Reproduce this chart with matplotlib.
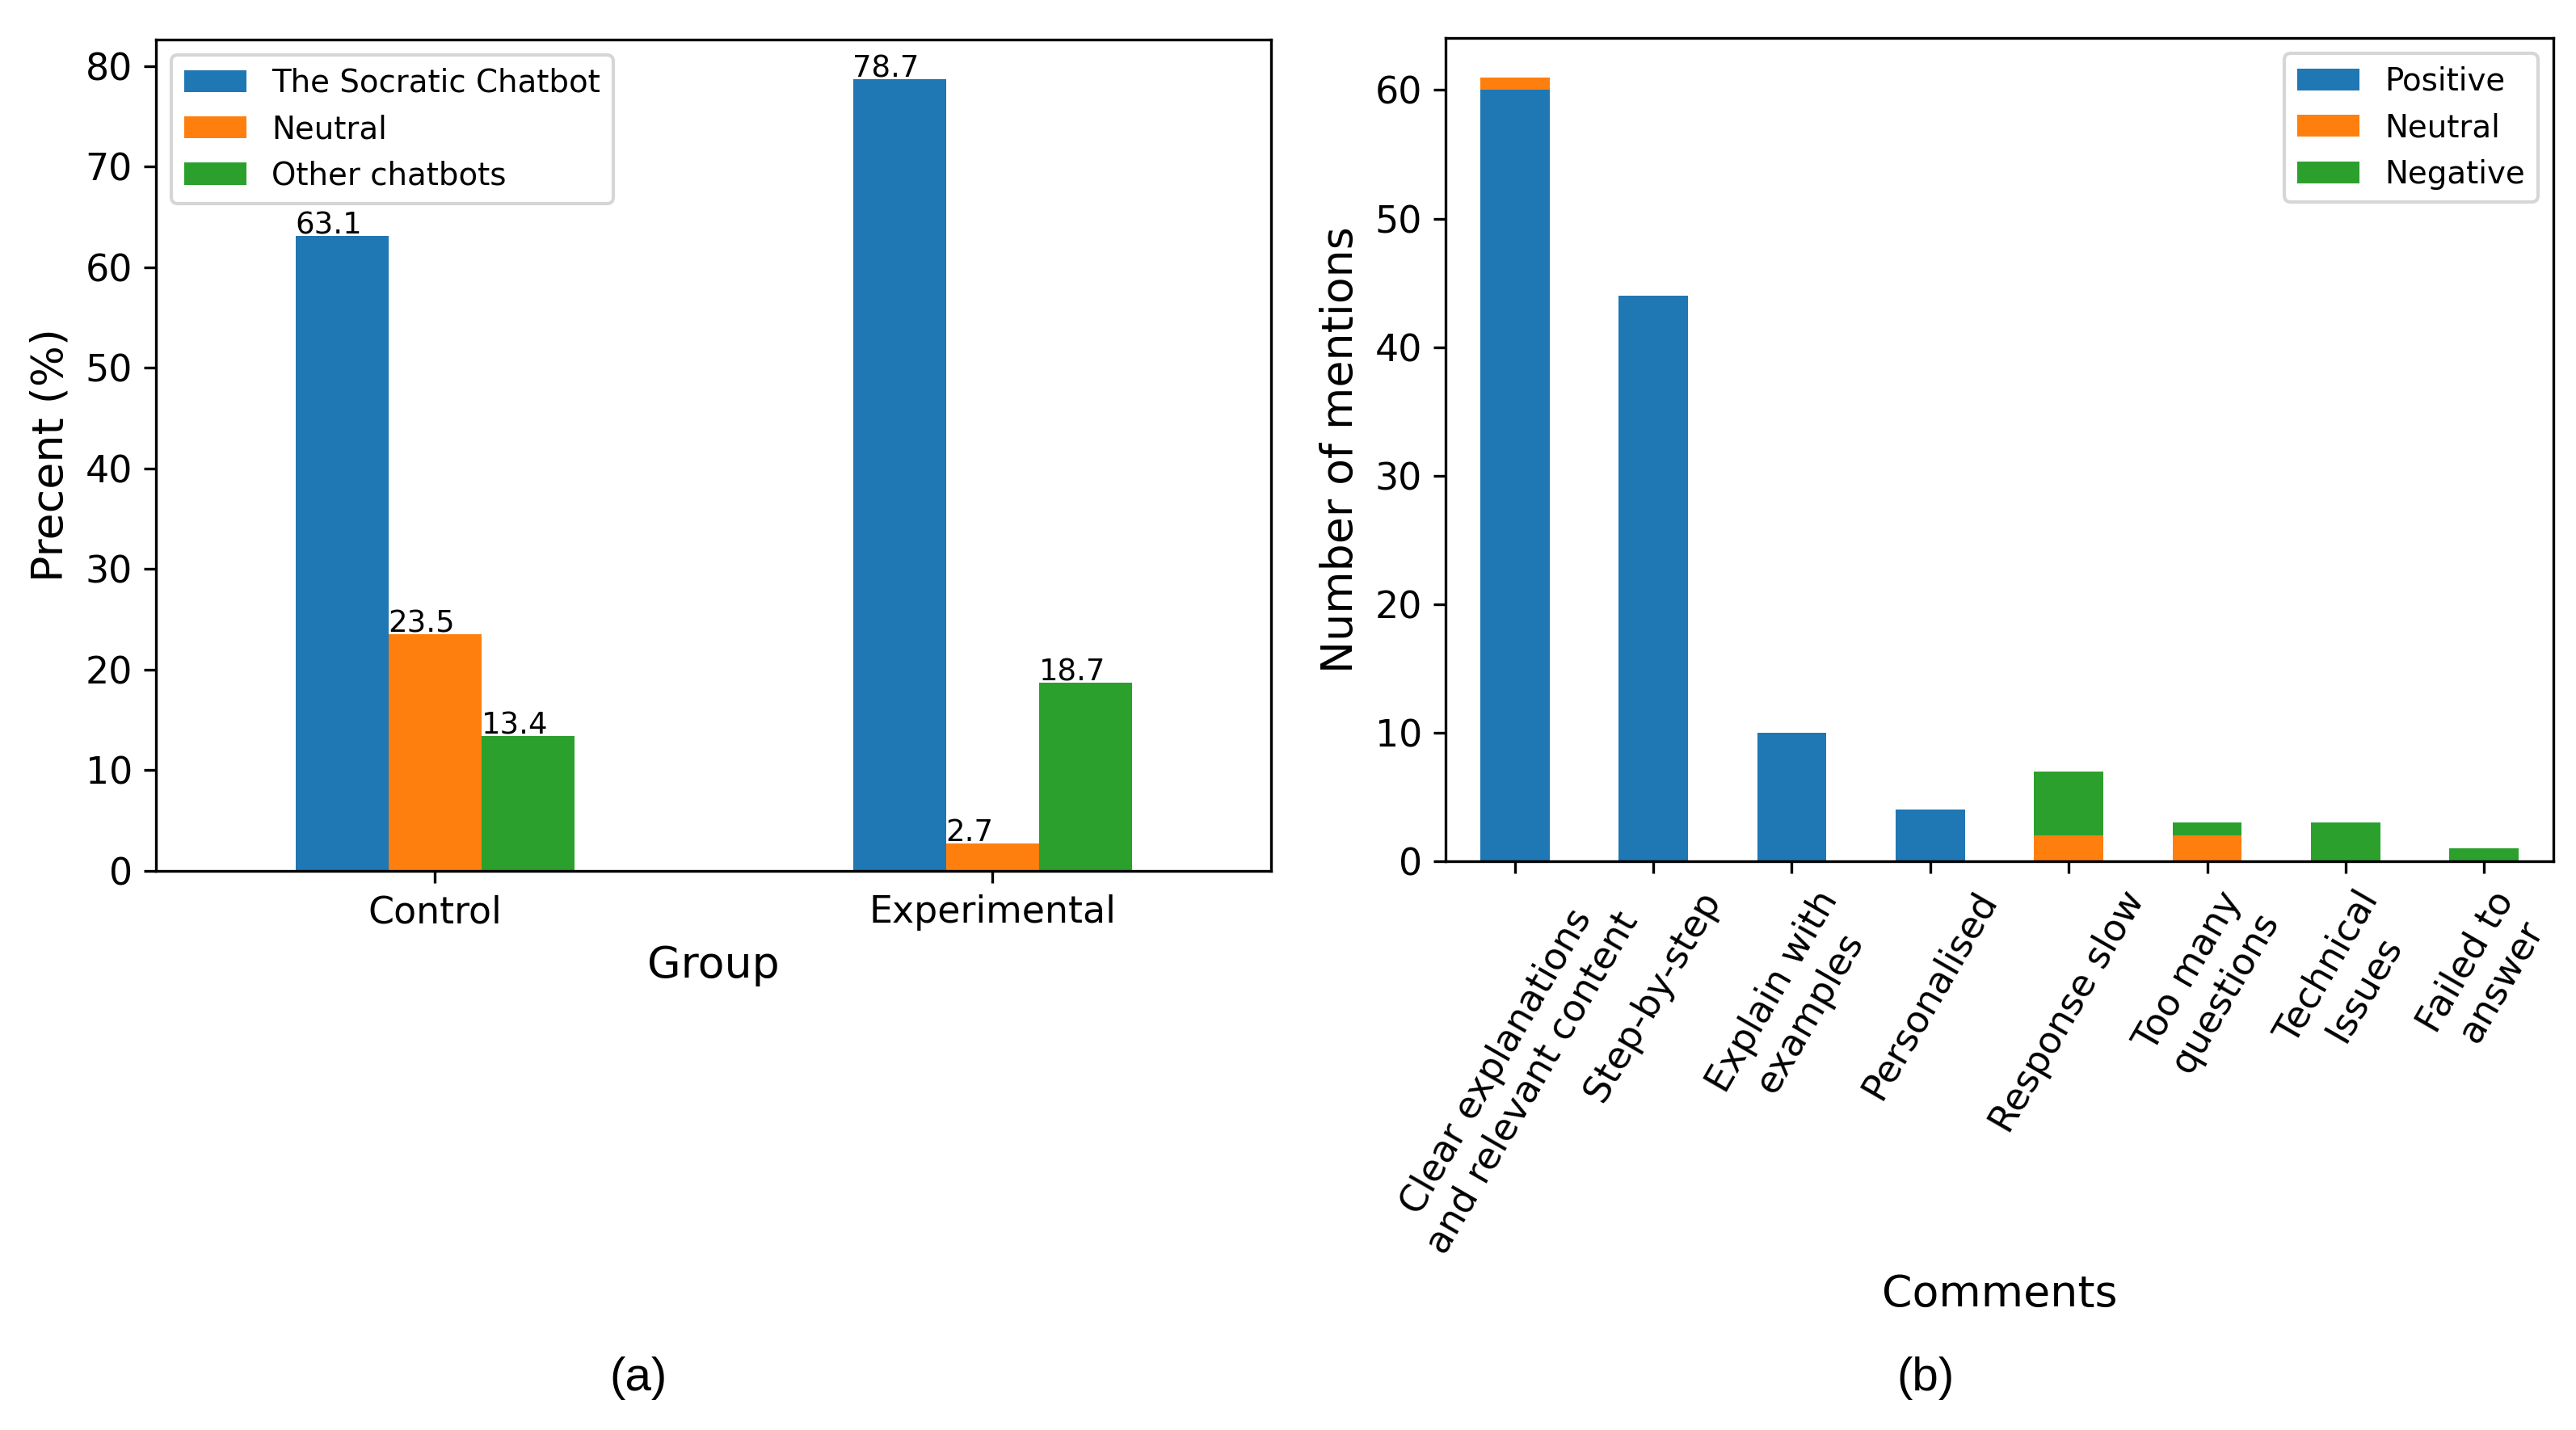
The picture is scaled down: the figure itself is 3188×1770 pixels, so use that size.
import matplotlib
matplotlib.use("Agg")
import matplotlib.pyplot as plt
import numpy as np

# ---- data: panel (a) ----
groups = ["Control", "Experimental"]
socratic = [63.1, 78.7]
neutral_a = [23.5, 2.7]
other = [13.4, 18.7]
series_a_labels = ["The Socratic Chatbot", "Neutral", "Other chatbots"]

# ---- data: panel (b) ----
comments = ["Clear explanations\nand relevant content", "Step-by-step",
            "Explain with\nexamples", "Personalised", "Response slow",
            "Too many\nquestions", "Technical\nIssues", "Failed to\nanswer"]
positive = [60, 44, 10, 4, 0, 0, 0, 0]
neutral_b = [1, 0, 0, 0, 2, 2, 0, 0]
negative = [0, 0, 0, 0, 5, 1, 3, 1]
series_b_labels = ["Positive", "Neutral", "Negative"]

colors = ["#1f77b4", "#ff7f0e", "#2ca02c"]

W, H = 3188, 1770
DPI = 300
fig = plt.figure(figsize=(W / DPI, H / DPI), dpi=DPI)
plt.rcParams["font.family"] = ["DejaVu Sans"]

TICK = 11.0
LEG = 9.3
ANN = 8.9
LAB = 12.9

# ---- panel (a) ----
ax1 = fig.add_axes([193 / W, 1 - 1078 / H, 1380 / W, 1029 / H])
x = np.arange(len(groups))
bw = 0.5 / 3
for i, (vals, lab) in enumerate(zip([socratic, neutral_a, other], series_a_labels)):
    pos = x + (i - 1) * bw
    bars = ax1.bar(pos, vals, width=bw, color=colors[i], label=lab)
    for b, v in zip(bars, vals):
        ax1.annotate(f"{v}", (b.get_x(), v), xytext=(0, 0.7),
                     textcoords="offset points", ha="left", va="baseline",
                     fontsize=ANN)
ax1.set_xlim(-0.5, len(groups) - 0.5)
ax1.set_xticks(x)
ax1.set_xticklabels(groups)
ax1.set_yticks(np.arange(0, 81, 10))
ax1.tick_params(labelsize=TICK)
ax1.set_xlabel("Group", fontsize=LAB)
ax1.set_ylabel("Precent (%)", fontsize=LAB)
ax1.legend(loc="upper left", fontsize=LEG)

# ---- panel (b) ----
ax2 = fig.add_axes([1789 / W, 1 - 1066 / H, 1371 / W, 1019 / H])
xb = np.arange(len(comments))
bottom = np.zeros(len(comments))
for vals, lab, c in zip([positive, neutral_b, negative], series_b_labels, colors):
    ax2.bar(xb, vals, width=0.5, bottom=bottom, color=c, label=lab)
    bottom = bottom + np.array(vals)
ax2.set_xlim(-0.5, len(comments) - 0.5)
ax2.set_ylim(0, bottom.max() * 1.05)
ax2.set_xticks(xb)
ax2.set_xticklabels(comments, rotation=60)
ax2.set_yticks(np.arange(0, 61, 10))
ax2.tick_params(labelsize=TICK)
ax2.set_xlabel("Comments", fontsize=LAB)
ax2.set_ylabel("Number of mentions", fontsize=LAB)
ax2.legend(loc="upper right", fontsize=LEG)

# ---- captions ----
fig.text(790 / W, 1 - 1706 / H, "(a)", ha="center", va="center",
         fontsize=14, family=["Liberation Sans", "DejaVu Sans"])
fig.text(2383 / W, 1 - 1706 / H, "(b)", ha="center", va="center",
         fontsize=14, family=["Liberation Sans", "DejaVu Sans"])

fig.savefig("out.png", dpi=DPI)
